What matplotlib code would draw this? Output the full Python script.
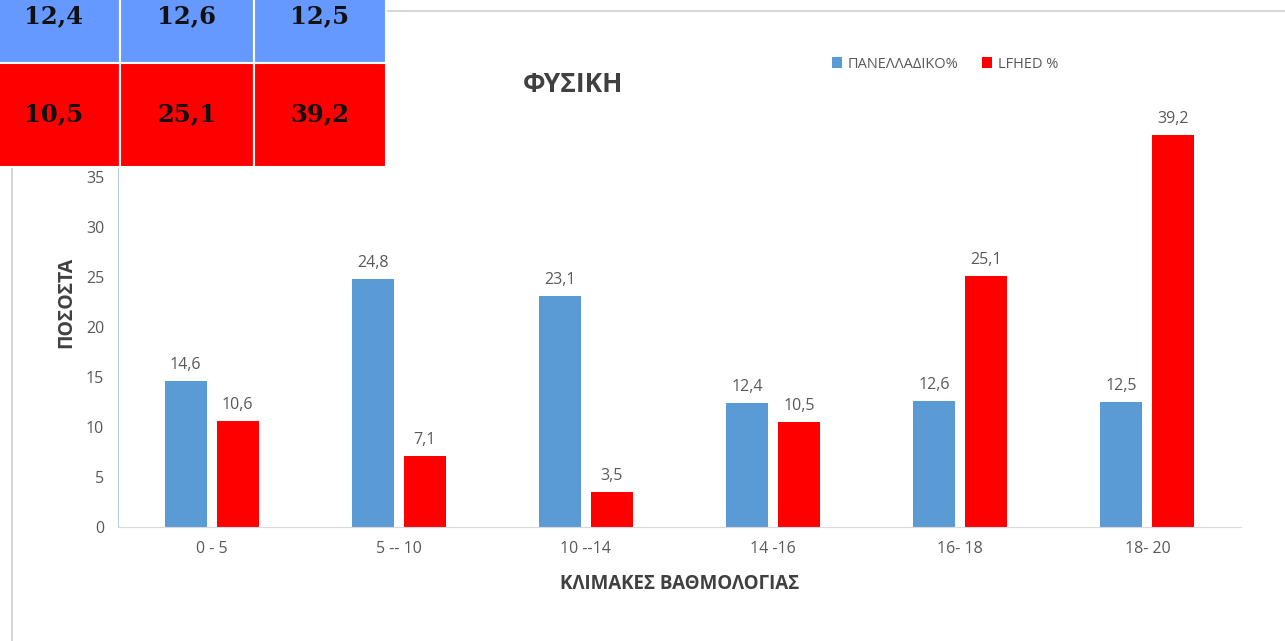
import matplotlib
matplotlib.use('Agg')
import numpy as np
import matplotlib.pyplot as plt
from matplotlib.patches import Rectangle

plt.rcParams['font.family'] = ['Open Sans', 'DejaVu Sans']

# data
categories = ['0 - 5', '5 -- 10', '10 --14', '14 -16', '16- 18', '18- 20']
panelladiko = [14.6, 24.8, 23.1, 12.4, 12.6, 12.5]
lfhed = [10.6, 7.1, 3.5, 10.5, 25.1, 39.2]
series_names = ['ΠΑΝΕΛΛΑΔΙΚΟ%', 'LFHED %']

# the small table pasted over the top-left corner
table_blue = ['12,4', '12,6', '12,5']
table_red = ['10,5', '25,1', '39,2']

BLUE = '#5B9BD5'
RED = '#FF0000'
GREY = '#595959'
DARK = '#404040'

W, H = 1285, 641
fig = plt.figure(figsize=(W / 100, H / 100), dpi=100)

# chart border (only top and left edges are visible)
fig.patches.append(Rectangle((12 / W, -0.2), 2, 1.2 - 11 / H, transform=fig.transFigure,
                             fill=False, edgecolor='#d0d0d0', linewidth=1.2, zorder=-5))

ax = fig.add_axes([118 / W, 1 - 527 / H, (1241 - 118) / W, (527 - 77) / H])

x = np.arange(len(categories))
width = 0.224
off = 0.139
b1 = ax.bar(x - off, panelladiko, width, color=BLUE, label=series_names[0])
b2 = ax.bar(x + off, lfhed, width, color=RED, label=series_names[1])

for bars, vals in ((b1, panelladiko), (b2, lfhed)):
    for rect, v in zip(bars, vals):
        ax.annotate(f'{v:.1f}'.replace('.', ','),
                    (rect.get_x() + rect.get_width() / 2, v),
                    xytext=(0, 6), textcoords='offset points',
                    ha='center', va='bottom', fontsize=11.5, color=GREY)

ax.set_xlim(-0.5, len(categories) - 0.5)
ax.set_ylim(0, 45)
ax.set_yticks(range(0, 40, 5))  # 40 and 45 sit under the table
ax.set_xticks(x)
ax.set_xticklabels(categories)
ax.tick_params(axis='both', length=0, labelsize=11.5, labelcolor=GREY)
ax.tick_params(axis='x', pad=10)
ax.tick_params(axis='y', pad=10)

for s in ('top', 'right'):
    ax.spines[s].set_visible(False)
ax.spines['left'].set_color('#b4cde3')
ax.spines['bottom'].set_color('#d9d9d9')

ax.set_xlabel('ΚΛΙΜΑΚΕΣ ΒΑΘΜΟΛΟΓΙΑΣ', fontsize=13.5, color=DARK,
              fontweight='bold', labelpad=12)
ax.set_ylabel('ΠΟΣΟΣΤΑ', fontsize=14, color=DARK, fontweight='bold', labelpad=7)

fig.text(573 / W, 1 - 85 / H, 'ΦΥΣΙΚΗ', fontsize=19, fontweight='bold',
         color=DARK, ha='center', va='center')

fig.legend(handles=[b1, b2], loc='center', bbox_to_anchor=(945 / W, 1 - 64 / H),
           ncol=2, frameon=False, fontsize=10.5, labelcolor=GREY,
           handlelength=0.7, handleheight=0.7, handletextpad=0.4, columnspacing=1.6)

# overlaid table
tax = fig.add_axes([0, 1 - 167 / H, 385 / W, 208 / H])
tax.set_xlim(0, 385)
tax.set_ylim(208, 0)
tax.axis('off')
col_edges = [-13, 120, 254, 386]
for r, (vals, col) in enumerate(((table_blue, '#6699FF'), (table_red, RED))):
    y0 = 104 * r
    for c, v in enumerate(vals):
        x0, x1 = col_edges[c], col_edges[c + 1]
        tax.add_patch(Rectangle((x0, y0), x1 - x0, 104, facecolor=col,
                                edgecolor='white', linewidth=1.5, clip_on=False))
        tax.text((x0 + x1) / 2, y0 + (57 if r == 0 else 51), v,
                 ha='center', va='center', fontsize=17.5, fontweight='bold',
                 family='DejaVu Serif', color='#111111')

fig.savefig('out.png', dpi=100)
